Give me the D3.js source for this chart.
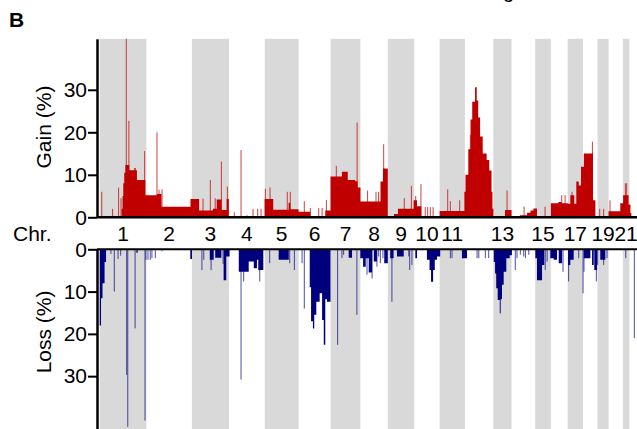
<!DOCTYPE html>
<html>
<head>
<meta charset="utf-8">
<script src="https://cdn.jsdelivr.net/npm/d3@7"></script>
<style>
  body { margin: 0; background: #fff; }
  text { font-family: "Liberation Sans", Arial, sans-serif; }
</style>
</head>
<body>
<div id="chart"></div>
<script>
// chromosome layout (hg19 lengths, Mb)
const chrNames   = ['1','2','3','4','5','6','7','8','9','10','11','12','13','14','15','16','17','18','19','20','21','22'];
const chrLengths = [249.25, 243.2, 198.0, 191.15, 180.9, 171.1, 159.1, 146.4, 141.2, 135.5, 135.0, 133.9,
                    115.2, 107.3, 102.5, 90.35, 81.2, 78.1, 59.1, 63.0, 48.1, 51.3];
// unprobed short arm of the acrocentric chromosomes (Mb), not shaded
const chrPArm    = [0, 0, 0, 0, 0, 0, 0, 0, 0, 0, 0, 0, 17.9, 17.6, 19.0, 0, 0, 0, 0, 0, 13.2, 14.7];
const chrLabels  = ['1','2','3','4','5','6','7','8','9','10','11','13','15','17','19','21'];

const gainTicks = [0, 10, 20, 30];
const lossTicks = [0, 10, 20, 30];

// [start Mb, end Mb, %] on the concatenated genome, in order, no overlaps
const gainSegments = [
  [117,122,2],[122,126,5],[126,131,8],[131,137,10.5],[137,158,12.3],[158,185,11.1],[185,192,11.6],
  [192,199,11.1],[199,244,8.8],[244,249,5.2],
  [249,306,5.2],[306,330,5.5],[330,485,2.5],
  [485,531,4.3],[531,605,1.6],[605,625,2],[625,651,4.2],[651,678,1.7],[678,690,4.3],
  [881,927,4.3],[927,1009,1.8],[1009,1018,3.4],[1018,1062,1.9],
  [1062,1125,1.3],[1205,1233,1.6],
  [1233,1294,9.6],[1294,1325,10.7],[1325,1365,8.8],[1365,1378,8.5],[1378,1393,7],
  [1393,1500,3.7],[1500,1513,8.4],[1513,1539,11.5],
  [1572,1593,0.8],[1593,1677,2],[1677,1695,4],[1695,1718,2.6],
  [1816,1948,1.5],
  [1948,1954,6],[1954,1969,10],[1969,1981,16],[1981,1990,23],[1990,2005,27.2],[2005,2014,30.6],
  [2014,2022,27.5],[2022,2032,23.5],[2032,2046,19],[2046,2067,15],[2067,2081,13.5],[2081,2093,11],
  [2093,2098,6],[2098,2103,2],
  [2165,2200,1.7],
  [2245,2283,0.5],[2283,2301,1.1],[2301,2317,1.6],[2317,2336,2.1],
  [2410,2450,3.3],[2450,2468,3.6],[2468,2500,3.3],
  [2500,2514,3.2],[2514,2535,5.2],[2535,2546,3.2],[2546,2559,8.4],[2559,2571,7.5],[2571,2586,11.9],
  [2586,2635,15],[2635,2648,4],
  [2718,2781,1.4],
  [2781,2796,3.3],[2796,2825,5.2],[2825,2835,3],[2835,2840,1]
];
// [position Mb, %] single-probe peaks
const gainSpikes = [
  [11,6],[69,2],[101,7],[114,4.5],[142,42],[156,22.7],[240,15.6],[306,20],[317,6.5],[333,6.6],
  [552,4.4],[591,8.8],[617,4.5],[650,13.1],[682,7.2],[719,1.2],[755,15.8],[787,0.5],[819,2],[844,2],
  [862,2],[885,6.7],[910,7],[1002,6],[1018,6],[1093,3.8],[1125,2.2],[1170,2.2],[1188,2.2],[1211,4.1],
  [1264,12.1],[1375,22.3],[1431,6.3],[1476,6],[1489,6],[1517,17.2],[1627,4.5],[1665,7.4],[1688,5],
  [1716,7.8],[1739,2.4],[1752,2.4],[1766,2.4],[1781,2.4],[1859,6.6],[1873,3.8],[1923,4],[1980,19.4],
  [2176,6.3],[2267,2.5],[2379,2.5],[2468,5.2],[2486,5.2],[2523,6],[2632,17.8],[2671,2],[2692,2],
  [2726,4],[2808,8],[2815,8]
];

const lossSegments = [
  [0,7,18],[7,15,11.6],[15,26,8],[26,34,3],[196,203,0.8],
  [484,493,2.3],[588,609,2.5],[617,650,2],[662,676,7.3],[676,694,1.7],
  [743,796,5.3],[796,823,2.9],[823,840,4.5],[840,847,2.5],[847,874,4.9],
  [956,1010,2.5],
  [1122,1129,9],[1129,1139,17],[1139,1146,18.7],[1146,1157,15.5],[1157,1175,12.4],[1175,1188,10.4],
  [1188,1197,16.7],[1197,1205,22.6],[1205,1214,11.8],[1214,1233,12.4],
  [1330,1348,2],
  [1392,1407,2.1],[1407,1421,4.1],[1421,1437,2.1],[1437,1455,5.5],[1464,1481,2.9],[1520,1539,3.3],
  [1552,1570,2.1],[1588,1624,1.7],[1686,1695,2.1],
  [1748,1762,2.5],[1762,1770,4.9],[1770,1781,7.7],[1781,1790,4.9],[1790,1802,2.5],[1802,1819,1.7],
  [1935,1962,2.1],
  [2105,2112,3],[2112,2118,5.7],[2118,2126,9.2],[2126,2137,12],[2137,2142,15.1],[2142,2149,11.8],
  [2149,2158,8.4],[2158,2172,5.3],[2172,2190,2.1],[2190,2202,1.4],
  [2327,2336,2.1],[2336,2363,7.3],[2363,2375,3.7],[2407,2425,2.1],[2425,2443,2.5],[2452,2470,3.3],
  [2502,2514,3.7],[2514,2532,2.5],
  [2586,2621,2.1],[2630,2639,3.7],[2642,2657,4.9],
  [2674,2701,2.5]
];
const lossSpikes = [
  [60,1.1],[78,10],[98,2.3],[112,1.5],[144,29.7],[150,42],[189,18.7],[242,40.5],[247,2.5],[258,2.5],
  [270,2.5],[279,2.1],[297,2.1],[333,0.5],
  [546,4.9],[556,2.5],[595,4.9],[659,3.5],
  [755,30.8],[769,7.6],[855,7.6],[908,3.3],
  [1015,3.3],[1040,4.9],[1081,3.3],[1093,14],
  [1271,22.6],[1294,2.1],[1303,1.3],[1374,15.5],
  [1428,6],[1455,6.9],[1481,4.1],[1490,1.7],[1499,3.3],[1513,2.1],
  [1561,12.4],[1651,1.7],[1656,4.9],[1668,3.7],
  [1873,2.1],[1882,2.1],[2016,2.1],[2025,2.1],[2060,2.1],[2078,2.1],
  [2220,4.9],[2229,2.1],[2247,1.3],[2265,1.7],[2274,2.1],[2292,1.3],
  [2380,4.9],[2390,2.9],[2475,5.3],
  [2505,7.6],[2559,2.1],[2582,10.4],[2587,5.3],
  [2653,7.6],[2660,3.7],[2692,3.7],[2710,2.1],
  [2810,2.1],[2856,21]
];

const W = 637, H = 429;
const GAIN_COL = '#c00000', LOSS_COL = '#00007f', BAND_COL = '#d9d9d9';
const FONT = '"Liberation Sans", Arial, sans-serif';

const svg = d3.select('#chart').append('svg')
  .attr('width', W).attr('height', H)
  .style('display', 'block');

// cumulative chromosome positions
const offsets = [0, ...d3.cumsum(chrLengths)];
const chroms = chrNames.map((n, i) => ({
  name: n, start: offsets[i], end: offsets[i + 1], bandStart: offsets[i] + chrPArm[i]
}));
const total = offsets[offsets.length - 1];

const x = d3.scaleLinear().domain([0, total]).range([99.7, 639]);
const yGain = d3.scaleLinear().domain([0, 42]).range([217.3, 38.8]);
const yLoss = d3.scaleLinear().domain([0, 42.4]).range([249.3, 428.6]);

// alternating chromosome bands
const bands = chroms.filter((d, i) => i % 2 === 0);
[[yGain(42), yGain(0)], [yLoss(0), H]].forEach(([y0, y1]) => {
  svg.append('g').selectAll('rect').data(bands).enter().append('rect')
    .attr('x', d => x(d.bandStart))
    .attr('width', d => x(d.end) - x(d.bandStart))
    .attr('y', y0).attr('height', y1 - y0)
    .attr('fill', BAND_COL);
});

// turn the segment list into step points (gaps drop to 0) so each profile is one shape
function stepPoints(segs) {
  const pts = [[0, 0]];
  let prevEnd = 0;
  segs.forEach(([s, e, v]) => {
    if (s > prevEnd) pts.push([prevEnd, 0]);
    pts.push([s, v]);
    prevEnd = e;
  });
  pts.push([prevEnd, 0]);
  return pts;
}

const gainArea = d3.area().curve(d3.curveStepAfter)
  .x(d => x(d[0])).y0(yGain(0)).y1(d => yGain(d[1]));
const lossArea = d3.area().curve(d3.curveStepAfter)
  .x(d => x(d[0])).y0(yLoss(0)).y1(d => yLoss(d[1]));

svg.append('path').datum(stepPoints(gainSegments)).attr('d', gainArea).attr('fill', GAIN_COL);
svg.append('g').selectAll('line').data(gainSpikes).enter().append('line')
  .attr('x1', d => x(d[0])).attr('x2', d => x(d[0]))
  .attr('y1', yGain(0)).attr('y2', d => yGain(d[1]))
  .attr('stroke', GAIN_COL).attr('stroke-width', 1).attr('stroke-opacity', 0.75);

svg.append('path').datum(stepPoints(lossSegments)).attr('d', lossArea).attr('fill', LOSS_COL);
svg.append('g').selectAll('line').data(lossSpikes).enter().append('line')
  .attr('x1', d => x(d[0])).attr('x2', d => x(d[0]))
  .attr('y1', yLoss(0)).attr('y2', d => yLoss(d[1]))
  .attr('stroke', LOSS_COL).attr('stroke-width', 1).attr('stroke-opacity', 0.7);

// baselines
svg.append('line').attr('x1', 97).attr('x2', W).attr('y1', yGain(0)).attr('y2', yGain(0))
  .attr('stroke', '#000').attr('stroke-width', 2.5);
svg.append('line').attr('x1', 97).attr('x2', W).attr('y1', yLoss(0)).attr('y2', yLoss(0))
  .attr('stroke', '#000').attr('stroke-width', 2);

// y axes
function styleAxis(g) {
  g.select('.domain').attr('stroke', '#000').attr('stroke-width', 2.5);
  g.selectAll('.tick line').attr('stroke', '#000').attr('stroke-width', 2);
  g.selectAll('.tick text').attr('fill', '#000')
    .style('font-size', '21px').style('font-family', FONT);
}
svg.append('g').attr('transform', 'translate(97,0)')
  .call(d3.axisLeft(yGain).tickValues(gainTicks).tickSize(9).tickSizeOuter(0).tickPadding(1))
  .call(styleAxis);
svg.append('g').attr('transform', 'translate(97,0)')
  .call(d3.axisLeft(yLoss).tickValues(lossTicks).tickSize(9).tickSizeOuter(0).tickPadding(1))
  .call(styleAxis);

// axis titles
svg.append('text').attr('transform', `translate(51,${(yGain(0) + yGain(42)) / 2 - 1}) rotate(-90)`)
  .attr('text-anchor', 'middle').style('font-size', '21px').text('Gain (%)');
svg.append('text').attr('transform', `translate(51,${(yLoss(0) + yLoss(42.4)) / 2 - 7}) rotate(-90)`)
  .attr('text-anchor', 'middle').style('font-size', '21px').text('Loss (%)');

// chromosome labels, centred on the shaded part
const labelY = 241;
svg.append('text').attr('x', 13).attr('y', labelY).style('font-size', '21px').text('Chr.');
svg.append('g').selectAll('text')
  .data(chroms.filter(d => chrLabels.includes(d.name))).enter().append('text')
  .attr('x', d => x((d.bandStart + d.end) / 2))
  .attr('y', labelY)
  .attr('text-anchor', 'middle')
  .style('font-size', '21px')
  .text(d => d.name);

// panel letter and the heading clipped at the top edge
svg.append('text').attr('x', 9).attr('y', 27).style('font-size', '21px').style('font-weight', 'bold').text('B');
svg.append('text').attr('x', 503).attr('y', -2).style('font-size', '20px').text('g');
</script>
</body>
</html>
